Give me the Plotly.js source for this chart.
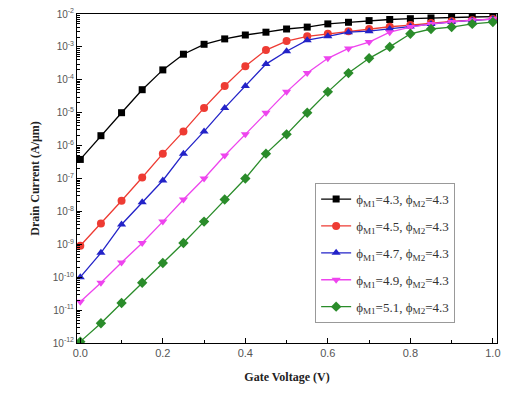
<!DOCTYPE html>
<html><head><meta charset="utf-8">
<script src="https://cdn.plot.ly/plotly-3.0.1.min.js"></script>
<style>html,body{margin:0;padding:0;background:#fff}#chart{width:505px;height:401px}</style>
</head><body><div id="chart"></div>
<script>
const gateVoltage = [0.00,0.05,0.10,0.15,0.20,0.25,0.30,0.35,0.40,0.45,0.50,0.55,0.60,0.65,0.70,0.75,0.80,0.85,0.90,0.95,1.00];
const seriesNames = [
  "ϕ<sub>M1</sub>=4.3, ϕ<sub>M2</sub>=4.3",
  "ϕ<sub>M1</sub>=4.5, ϕ<sub>M2</sub>=4.3",
  "ϕ<sub>M1</sub>=4.7, ϕ<sub>M2</sub>=4.3",
  "ϕ<sub>M1</sub>=4.9, ϕ<sub>M2</sub>=4.3",
  "ϕ<sub>M1</sub>=5.1, ϕ<sub>M2</sub>=4.3"
];
const current43 = [3.8e-7,2e-6,1e-5,5e-5,2e-4,6e-4,1.2e-3,1.75e-3,2.3e-3,2.8e-3,3.5e-3,4e-3,5e-3,5.6e-3,6.3e-3,6.8e-3,7.2e-3,7.6e-3,7.9e-3,8.1e-3,8.3e-3];
const current45 = [9e-10,4.3e-9,2.1e-8,1.07e-7,5.7e-7,2.7e-6,1.4e-5,6.5e-5,2.6e-4,8e-4,1.5e-3,2.1e-3,2.5e-3,3e-3,3.5e-3,4.1e-3,4.6e-3,5.3e-3,6e-3,6.5e-3,7e-3];
const current47 = [1e-10,5.5e-10,4e-9,1.9e-8,8.7e-8,5.7e-7,2.7e-6,1.4e-5,6.5e-5,3e-4,7.4e-4,1.6e-3,2.1e-3,2.8e-3,3e-3,3.5e-3,4.2e-3,5e-3,5.8e-3,6.4e-3,7e-3];
const current49 = [1.8e-11,6.8e-11,2.8e-10,1.1e-9,4.9e-9,2.3e-8,1e-7,5e-7,2.2e-6,1e-5,4.3e-5,1.6e-4,4.5e-4,9e-4,1.4e-3,2.8e-3,4e-3,5e-3,5.7e-3,6.5e-3,7e-3];
const current51 = [1.1e-12,4e-12,1.65e-11,6.8e-11,2.7e-10,1.1e-9,4.9e-9,2.3e-8,1e-7,5.7e-7,2.2e-6,1e-5,4.3e-5,1.6e-4,4.5e-4,1e-3,2.5e-3,3.5e-3,4e-3,5e-3,5.7e-3];
const yTickVals = [1e-12,1e-11,1e-10,1e-9,1e-8,1e-7,1e-6,1e-5,1e-4,1e-3,1e-2];
const yTickText = ["10<sup>-12</sup>","10<sup>-11</sup>","10<sup>-10</sup>","10<sup>-9</sup>","10<sup>-8</sup>","10<sup>-7</sup>","10<sup>-6</sup>","10<sup>-5</sup>","10<sup>-4</sup>","10<sup>-3</sup>","10<sup>-2</sup>"];

// minor log ticks (2..9 x each decade)
const yMinorVals = [];
yTickVals.slice(0,-1).forEach(d=>{ for(let m=2;m<=9;m++) yMinorVals.push(d*m); });

const allSeries = [current43,current45,current47,current49,current51];
const colors = ["#000000","#ee3b33","#2323c8","#ee44ee","#2a8c2a"];
const symbols = ["square","circle","triangle-up","triangle-down","diamond"];
const sizes = [7,8,8,8,8];

const traces = allSeries.map((ys,i)=>({
  x: gateVoltage, y: ys, name: seriesNames[i], type:'scatter', mode:'lines+markers',
  legendgroup:'g'+i,
  line:{color:colors[i], width:1.3},
  marker:{symbol:symbols[i], size:sizes[i], color:colors[i]}
}));

const layout = {
  width:505, height:401,
  margin:{l:77, r:8, t:14, b:58},
  paper_bgcolor:'#fff', plot_bgcolor:'#fff',
  font:{family:'Liberation Sans, Arial', color:'#444'},
  showlegend:true,
  legend:{x:0.567, y:0.486, xanchor:'left', yanchor:'top', bgcolor:'#fff',
    bordercolor:'#999', borderwidth:1, tracegroupgap:7, itemwidth:30,
    font:{family:'Liberation Serif, Times New Roman', size:13, color:'#333'}},
  xaxis:{range:[-0.008,1.01], dtick:0.2, tick0:0, tickformat:'.1f',
    ticks:'inside', ticklen:5, tickcolor:'#000', showline:true, linecolor:'#000', linewidth:1,
    mirror:true, showgrid:false, zeroline:false,
    minor:{dtick:0.1, ticks:'inside', ticklen:3, tickcolor:'#000', showgrid:false},
    tickfont:{size:11, color:'#555'},
    title:{text:'<b>Gate Voltage (V)</b>', font:{family:'Liberation Serif, Times New Roman', size:12, color:'#222'}, standoff:14}},
  yaxis:{type:'log', range:[-12,-2], tickvals:yTickVals, ticktext:yTickText,
    ticks:'inside', ticklen:5, tickcolor:'#000', showline:true, linecolor:'#000', linewidth:1,
    mirror:true, showgrid:false, zeroline:false,
    minor:{tickmode:'array', tickvals:yMinorVals, ticks:'inside', ticklen:3, tickcolor:'#000', showgrid:false},
    tickfont:{size:10, color:'#555'},
    title:{text:'<b>Drain Current (A/μm)</b>', font:{family:'Liberation Serif, Times New Roman', size:12, color:'#222'}, standoff:10}}
};
Plotly.newPlot('chart', traces, layout, {displayModeBar:false, staticPlot:true});
</script></body></html>
